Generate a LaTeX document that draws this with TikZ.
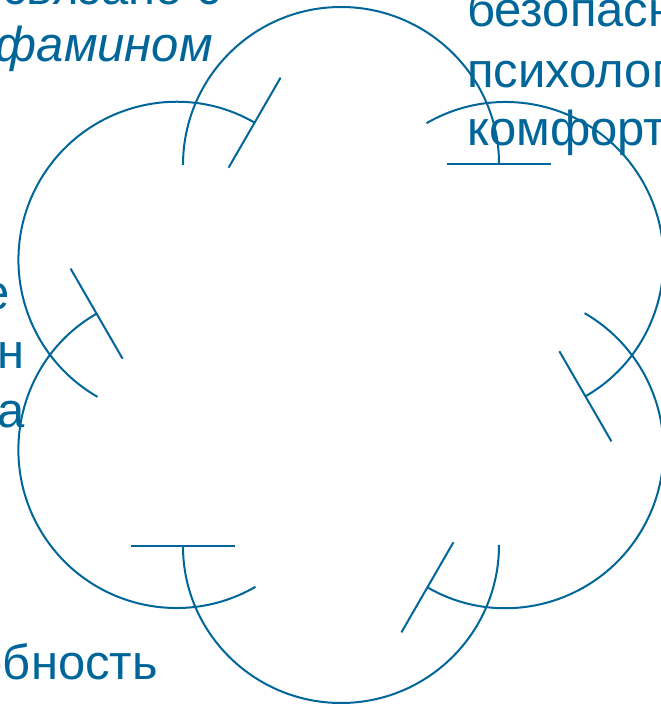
\documentclass[tikz,border=0pt]{standalone}
\usepackage{fontspec}
\setmainfont{Liberation Sans}
\usetikzlibrary{arrows.meta}
\definecolor{cycblue}{RGB}{0,102,153}
\tikzset{
  cycarc/.style={draw=cycblue, line width=2pt, -{Bar[width=104pt]}},
  cyctext/.style={text=cycblue, inner sep=0pt, font=\fontsize{49}{59}\selectfont},
}
\begin{document}
\begin{tikzpicture}[x=1pt,y=1pt]
  \useasboundingbox (0,0) rectangle (661,704);
  \clip (0,0) rectangle (661,704);
  % centre of the cycle
  \coordinate (ctr) at (341,349);
  % six arcs, a bar at the end of each
  \foreach \a [count=\i] in {90,30,-30,-90,-150,150} {
    \coordinate (c\i) at ([shift={(\a:190pt)}]ctr);
    \draw[cycarc] ([shift={({\a+90}:158pt)}]c\i) arc[start angle=\a+90, end angle=\a-90, radius=158pt];
  }
  % top left
  \node[cyctext, anchor=base east] (dop1) at (221,699) {связано с};
  \node[cyctext, anchor=base east] (dop2) at (213,642) {\itshape дофамином};
  % top right
  \node[cyctext, anchor=base west] (safe1) at (467,677) {безопасн};
  \node[cyctext, anchor=base west] (safe2) at (467,616) {психолог};
  \node[cyctext, anchor=base west] (safe3) at (467,558) {комфорт};
  % left
  \node[cyctext, anchor=base east] (left1) at (10,394) {е};
  \node[cyctext, anchor=base east] (left2) at (25,335) {н};
  \node[cyctext, anchor=base east] (left3) at (25,276) {а};
  % bottom left
  \node[cyctext, anchor=base east] (abil) at (158,24) {обность};
\end{tikzpicture}
\end{document}
